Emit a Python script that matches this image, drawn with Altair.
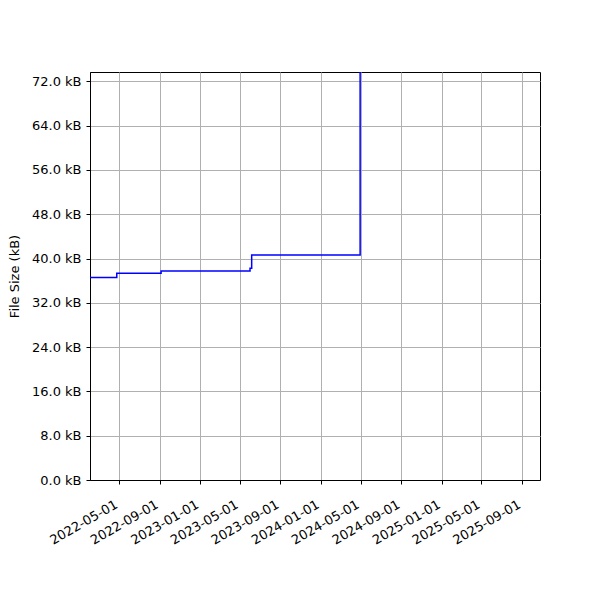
import altair as alt
import pandas as pd

# Data (step changes in file size)
dates = ["2022-02-02", "2022-04-24", "2022-09-05", "2023-06-01", "2023-06-06", "2024-04-29"]
sizes_kb = [36.6, 37.35, 37.75, 38.25, 40.65, 150.0]

tick_dates = ["2022-05-01", "2022-09-01", "2023-01-01", "2023-05-01", "2023-09-01",
              "2024-01-01", "2024-05-01", "2024-09-01", "2025-01-01", "2025-05-01", "2025-09-01"]
y_ticks = [0, 8, 16, 24, 32, 40, 48, 56, 64, 72]

x_start = "2022-02-02"
x_end = "2025-10-25"
y_max = 73.7

df = pd.DataFrame({"date": dates, "size": sizes_kb})


def dt(s):
    y, m, d = (int(p) for p in s.split("-"))
    return alt.DateTime(year=y, month=m, date=d)


FONT = "DejaVu Sans"

line = alt.Chart(df).mark_line(
    interpolate="step-after", color="#0000ff", strokeWidth=1.5, clip=True
).encode(
    x=alt.X(
        "date:T",
        scale=alt.Scale(domain=[dt(x_start), dt(x_end)]),
        axis=alt.Axis(
            values=[dt(t) for t in tick_dates],
            format="%Y-%m-%d",
            labelAngle=-30,
            labelAlign="right",
            labelBaseline="top",
            labelOverlap=False,
            labelBound=False,
            labelFlush=False,
            labelOffset=-6,
            labelPadding=14,
            title=None,
            grid=True,
        ),
    ),
    y=alt.Y(
        "size:Q",
        scale=alt.Scale(domain=[0, y_max], nice=False, zero=True),
        axis=alt.Axis(
            values=y_ticks,
            labelExpr="format(datum.value, '.1f') + ' kB'",
            labelOverlap=False,
            labelPadding=5,
            title="File Size (kB)",
            grid=True,
        ),
    ),
)

chart = line.properties(
    width=450,
    height=408,
    autosize=alt.AutoSizeParams(type="none"),
    padding={"left": 82, "top": 64, "right": 52, "bottom": 120},
).configure_view(
    stroke="black", strokeWidth=1
).configure_axis(
    labelFont=FONT,
    titleFont=FONT,
    labelFontSize=13,
    titleFontSize=13,
    titleFontWeight="normal",
    labelColor="black",
    titleColor="black",
    domainColor="black",
    domainWidth=1,
    tickColor="black",
    tickSize=4,
    tickWidth=1,
    gridColor="#b0b0b0",
    gridWidth=1,
    titlePadding=10,
)

chart.save("out.html", embed_options={"renderer": "svg", "actions": False})
